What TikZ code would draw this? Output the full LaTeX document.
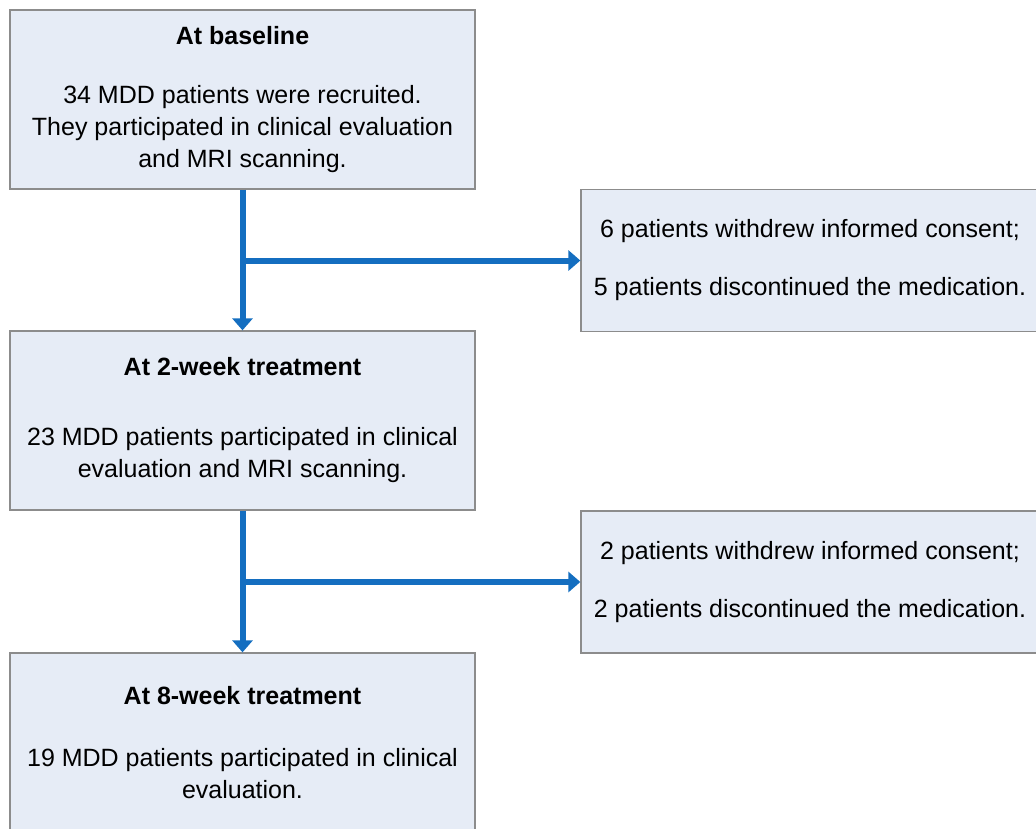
\documentclass[tikz,border=0pt]{standalone}
\usepackage{fontspec}
\setmainfont{Liberation Sans}
\usetikzlibrary{arrows.meta}
\definecolor{boxfill}{RGB}{230,236,246}
\definecolor{boxline}{RGB}{140,140,140}
\definecolor{arrowblue}{RGB}{20,110,192}
\begin{document}
\begin{tikzpicture}[x=1pt,y=-1pt,
  box/.style={draw=boxline, line width=1.3pt, fill=boxfill, inner sep=0pt, align=center,
    font=\fontsize{25}{32}\selectfont},
  leftbox/.style={box, minimum width=465pt, minimum height=179pt},
  rightbox/.style={box, minimum width=458pt, minimum height=142pt},
  flow/.style={draw=arrowblue, line width=6pt, -{Triangle[width=20pt,length=12pt]}}
]
\useasboundingbox (0,0) rectangle (1036,828);
\clip (0,0) rectangle (1036,828);
\node[leftbox] (b1) at (242.5,99.5) {\textbf{At baseline}\\[27pt]34 MDD patients were recruited.\\They participated in clinical evaluation\\and MRI scanning.};
\node[leftbox] (b2) at (242.5,420.5) {\textbf{At 2-week treatment}\\[38pt]23 MDD patients participated in clinical\\evaluation and MRI scanning.};
\node[leftbox] (b3) at (242.5,742.5) {\textbf{At 8-week treatment}\\[30pt]19 MDD patients participated in clinical\\evaluation.};
\node[rightbox] (r1) at (810,260.5) {6 patients withdrew informed consent;\\[26pt]5 patients discontinued the medication.};
\node[rightbox] (r2) at (810,582) {2 patients withdrew informed consent;\\[26pt]2 patients discontinued the medication.};
\draw[flow] (b1.south) -- (b2.north);
\draw[flow] (b1.south |- r1.west) -- (r1.west);
\draw[flow] (b2.south) -- (b3.north);
\draw[flow] (b2.south |- r2.west) -- (r2.west);
\end{tikzpicture}
\end{document}
